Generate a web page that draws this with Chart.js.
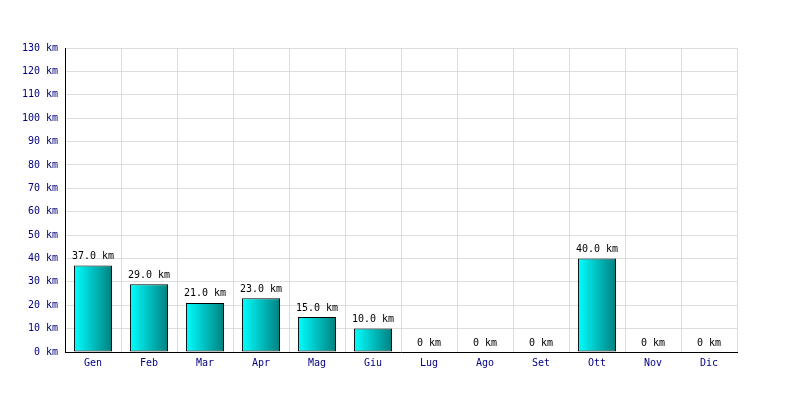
<!DOCTYPE html>
<html>
<head>
<meta charset="utf-8">
<script src="https://cdn.jsdelivr.net/npm/chart.js@4/dist/chart.umd.min.js"></script>
<style>
  html, body { margin: 0; padding: 0; background: #fff; }
  #wrap { width: 800px; height: 400px; }
</style>
</head>
<body>
<div id="wrap"><canvas id="km-chart" width="800" height="400"></canvas></div>
<script>
// Monthly distance
const months = ['Gen', 'Feb', 'Mar', 'Apr', 'Mag', 'Giu', 'Lug', 'Ago', 'Set', 'Ott', 'Nov', 'Dic'];
const kmValues = [37, 29, 21, 23, 15, 10, 0, 0, 0, 40, 0, 0];
const yMax = 130;
const yStep = 10;

const monoFont = { family: '"DejaVu Sans Mono", "Liberation Mono", monospace', size: 10 };
const barPct = 0.68;

// horizontal cyan -> teal gradient per bar
function barGradient(context) {
    const chart = context.chart;
    const xScale = chart.scales.x;
    if (!xScale || !chart.chartArea) return '#00cccc';
    const center = xScale.getPixelForValue(context.dataIndex);
    const half = (xScale.width / months.length) * barPct / 2;
    const g = chart.ctx.createLinearGradient(center - half, 0, center + half, 0);
    g.addColorStop(0, '#00ffff');
    g.addColorStop(1, '#008080');
    return g;
}

// value labels above the bars
const valueLabels = {
    id: 'valueLabels',
    afterDatasetsDraw(chart) {
        const ctx = chart.ctx;
        const meta = chart.getDatasetMeta(0);
        ctx.save();
        ctx.font = '10px ' + monoFont.family;
        ctx.fillStyle = '#000';
        ctx.textAlign = 'center';
        ctx.textBaseline = 'bottom';
        meta.data.forEach((bar, i) => {
            const v = kmValues[i];
            const txt = v > 0 ? v.toFixed(1) + ' km' : '0 km';
            ctx.fillText(txt, bar.x, bar.y - 4);
        });
        ctx.restore();
    }
};

new Chart(document.getElementById('km-chart'), {
    type: 'bar',
    data: {
        labels: months,
        datasets: [{
            data: kmValues,
            backgroundColor: barGradient,
            borderColor: '#000',
            borderWidth: 1,
            borderSkipped: false,
            barPercentage: barPct,
            categoryPercentage: 1
        }]
    },
    options: {
        responsive: false,
        animation: false,
        layout: { padding: { left: 0, top: 48, right: 63, bottom: 0 } },
        plugins: {
            legend: { display: false },
            tooltip: { enabled: false }
        },
        scales: {
            x: {
                grid: { color: '#dddddd', drawTicks: false, offset: true },
                border: { color: '#000', width: 1 },
                ticks: { color: '#000080', font: monoFont, padding: 5, maxRotation: 0 },
                afterFit(scale) { scale.height = 48; }
            },
            y: {
                min: 0,
                max: yMax,
                grid: { color: '#dddddd', drawTicks: false },
                border: { color: '#000', width: 1 },
                ticks: {
                    stepSize: yStep,
                    color: '#000080',
                    font: monoFont,
                    padding: 7,
                    callback: v => v + ' km'
                },
                afterFit(scale) { scale.width = 65; }
            }
        }
    },
    plugins: [valueLabels]
});
</script>
</body>
</html>
